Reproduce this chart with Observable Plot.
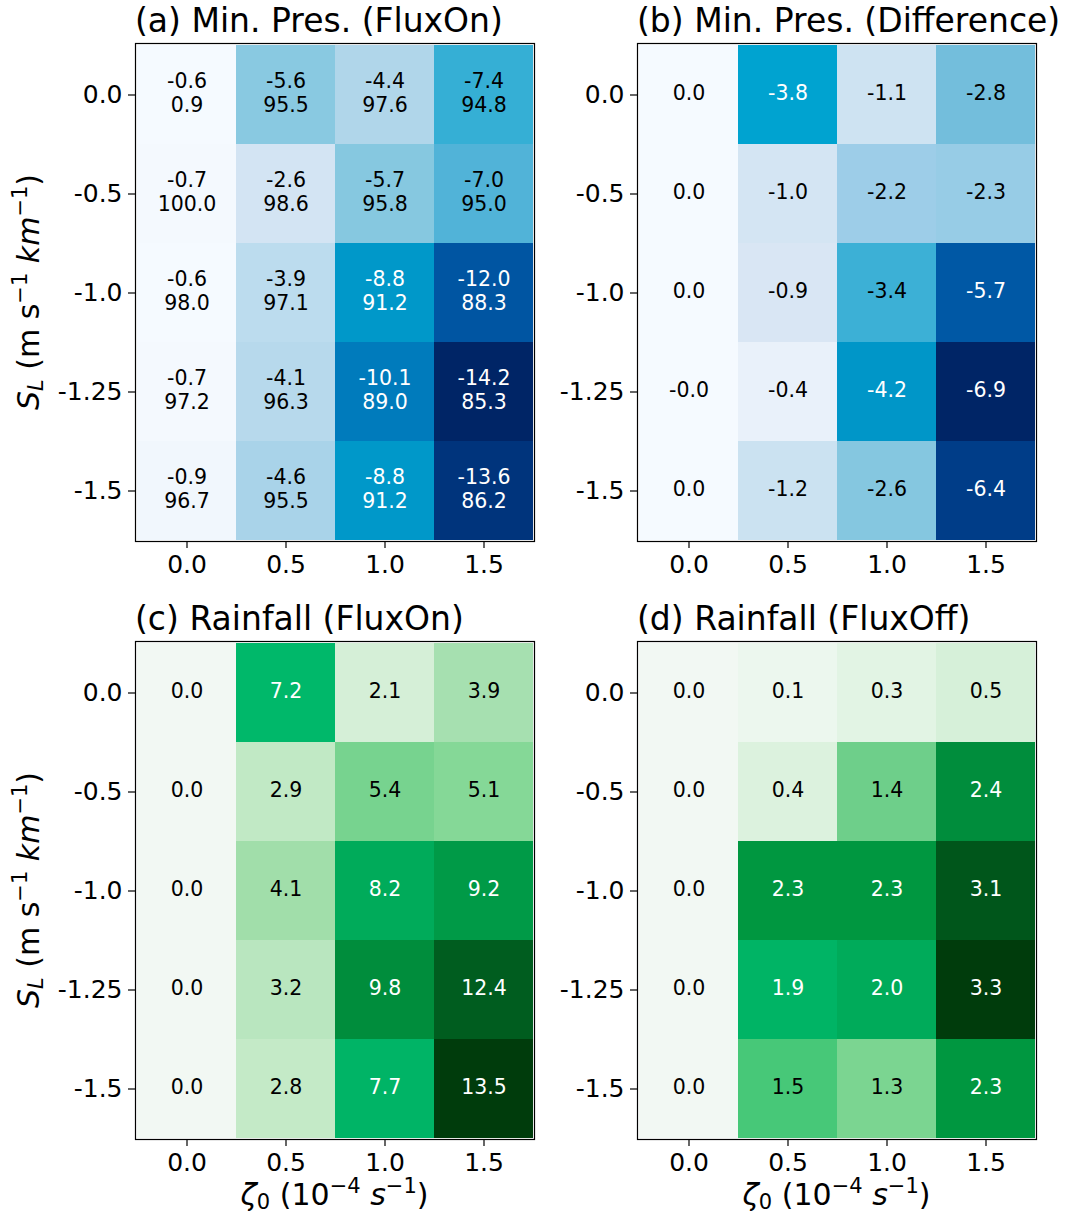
<!DOCTYPE html>
<html>
<head>
<meta charset="utf-8">
<script src="https://cdn.jsdelivr.net/npm/d3@7"></script>
<script src="https://cdn.jsdelivr.net/npm/@observablehq/plot@0.6"></script>
<style>
  html, body { margin: 0; padding: 0; background: white; }
  #chart { position: relative; width: 1066px; height: 1219px; background: white; font-family: "DejaVu Sans", sans-serif; }
  #chart > svg { position: absolute; }
</style>
</head>
<body>
<div id="chart"></div>
<script>
// ---------- data ----------
const zeta = ["0.0", "0.5", "1.0", "1.5"];                 // x categories (10^-4 s^-1)
const shear = ["0.0", "-0.5", "-1.0", "-1.25", "-1.5"];    // y categories (m s^-1 km^-1)

// rows = shear (top to bottom), columns = zeta
const presFluxOn = [
  [-0.6, -5.6, -4.4, -7.4],
  [-0.7, -2.6, -5.7, -7.0],
  [-0.6, -3.9, -8.8, -12.0],
  [-0.7, -4.1, -10.1, -14.2],
  [-0.9, -4.6, -8.8, -13.6]
];
const presPercent = [
  [0.9, 95.5, 97.6, 94.8],
  [100.0, 98.6, 95.8, 95.0],
  [98.0, 97.1, 91.2, 88.3],
  [97.2, 96.3, 89.0, 85.3],
  [96.7, 95.5, 91.2, 86.2]
];
const presDiff = [
  [0.0, -3.8, -1.1, -2.8],
  [0.0, -1.0, -2.2, -2.3],
  [0.0, -0.9, -3.4, -5.7],
  [-0.0, -0.4, -4.2, -6.9],
  [0.0, -1.2, -2.6, -6.4]
];
const rainFluxOn = [
  [0.0, 7.2, 2.1, 3.9],
  [0.0, 2.9, 5.4, 5.1],
  [0.0, 4.1, 8.2, 9.2],
  [0.0, 3.2, 9.8, 12.4],
  [0.0, 2.8, 7.7, 13.5]
];
const rainFluxOff = [
  [0.0, 0.1, 0.3, 0.5],
  [0.0, 0.4, 1.4, 2.4],
  [0.0, 2.3, 2.3, 3.1],
  [0.0, 1.9, 2.0, 3.3],
  [0.0, 1.5, 1.3, 2.3]
];

const titles = ["(a) Min. Pres. (FluxOn)", "(b) Min. Pres. (Difference)", "(c) Rainfall (FluxOn)", "(d) Rainfall (FluxOff)"];

// ---------- colormaps (styles) ----------
const blueStops = [0.00, 0.06, 0.13, 0.16, 0.24, 0.28, 0.32, 0.375, 0.41, 0.47, 0.50, 0.55, 0.61, 0.70, 0.835, 0.94, 1.00];
const blueColors = ["#f5faff", "#e9f1fa", "#d9e6f4", "#cee3f2", "#bddcee", "#b0d6ea", "#9ccde8", "#86c8e0", "#70bddc", "#52b3d8", "#35afd5", "#00a3d0", "#0096c8", "#007bbc", "#0056a3", "#003a84", "#002566"];
const greenStops = [0.00, 0.03, 0.09, 0.15, 0.21, 0.24, 0.29, 0.30, 0.38, 0.40, 0.425, 0.455, 0.53, 0.575, 0.607, 0.68, 0.70, 0.73, 0.93, 1.00];
const greenColors = ["#f2f8f3", "#ecf7ee", "#e2f4e4", "#d7f0d9", "#c3eac6", "#b8e6be", "#a6e0b0", "#a2deab", "#84d896", "#77d38f", "#6ecf8a", "#46c878", "#00b86a", "#00b465", "#00ab5a", "#009a48", "#00963f", "#008c3c", "#005a1d", "#003c0c"];

function makeInterp(stops, colors) {
  const s = d3.scaleLinear().domain(stops).range(colors).interpolate(d3.interpolateRgb).clamp(true);
  return (t) => s(t);
}
const blueInterp = makeInterp(blueStops, blueColors);
const greenInterp = makeInterp(greenStops, greenColors);

function fmt(v) {
  return Object.is(v, -0) ? "-0.0" : v.toFixed(1);
}

function buildRows(values, colorSign, second) {
  const rows = [];
  values.forEach((row, i) => row.forEach((v, j) => {
    rows.push({
      shear: shear[i],
      zeta: zeta[j],
      c: colorSign * v + 0,
      label: second ? fmt(v) + "\n" + fmt(second[i][j]) : fmt(v)
    });
  }));
  const [lo, hi] = d3.extent(rows, d => d.c);
  rows.forEach(d => { d.t = (d.c - lo) / (hi - lo); });
  return rows;
}

const panels = [
  {rows: buildRows(presFluxOn, -1, presPercent), interp: blueInterp, title: titles[0], left: 0, top: 0, width: 540, height: 600, ml: 135, mr: 6, mt: 43, mb: 59, ylab: true, xlab: false},
  {rows: buildRows(presDiff, -1, null), interp: blueInterp, title: titles[1], left: 540, top: 0, width: 526, height: 600, ml: 97, mr: 30, mt: 43, mb: 59, ylab: false, xlab: false},
  {rows: buildRows(rainFluxOn, 1, null), interp: greenInterp, title: titles[2], left: 0, top: 600, width: 540, height: 619, ml: 135, mr: 6, mt: 41, mb: 80, ylab: true, xlab: true},
  {rows: buildRows(rainFluxOff, 1, null), interp: greenInterp, title: titles[3], left: 540, top: 600, width: 526, height: 619, ml: 97, mr: 30, mt: 41, mb: 80, ylab: false, xlab: true}
];

const chart = document.getElementById("chart");

for (const p of panels) {
  const svg = Plot.plot({
    width: p.width,
    height: p.height,
    marginLeft: p.ml,
    marginRight: p.mr,
    marginTop: p.mt,
    marginBottom: p.mb,
    style: {fontFamily: "DejaVu Sans", fontSize: "25px", background: "transparent", color: "black", overflow: "visible"},
    x: {type: "band", domain: zeta, padding: 0, label: null},
    y: {type: "band", domain: shear, padding: 0, label: null},
    color: {type: "linear", interpolate: p.interp},
    marks: [
      Plot.cell(p.rows, {x: "zeta", y: "shear", fill: "c", inset: 0}),
      Plot.text(p.rows.filter(d => d.t <= 0.501), {x: "zeta", y: "shear", text: "label", fill: "black", fontSize: 20.5, lineHeight: 1.17, dy: -3}),
      Plot.text(p.rows.filter(d => d.t > 0.501), {x: "zeta", y: "shear", text: "label", fill: "white", fontSize: 20.5, lineHeight: 1.17, dy: -3}),
      Plot.frame({stroke: "black", strokeWidth: 1.2}),
      Plot.axisX({tickSize: 7, tickPadding: 7, label: null, strokeWidth: 1.2}),
      Plot.axisY({tickSize: 7, tickPadding: 6, label: null, strokeWidth: 1.2})
    ]
  });
  svg.style.left = p.left + "px";
  svg.style.top = p.top + "px";
  const s = d3.select(svg);

  // panel title
  s.append("text")
    .attr("x", p.ml)
    .attr("y", p.mt - 11)
    .attr("font-size", 33)
    .attr("fill", "black")
    .attr("text-anchor", "start")
    .text(p.title);

  if (p.ylab) {
    const cy = p.mt + (p.height - p.mt - p.mb) / 2;
    const t = s.append("text")
      .attr("transform", `translate(39,${cy}) rotate(-90)`)
      .attr("text-anchor", "middle")
      .attr("font-size", 30)
      .attr("fill", "black");
    t.append("tspan").attr("font-style", "italic").text("S");
    t.append("tspan").attr("font-style", "italic").attr("font-size", "70%").attr("baseline-shift", "-20%").text("L");
    t.append("tspan").text(" (m s");
    t.append("tspan").attr("font-size", "70%").attr("baseline-shift", "55%").text("−1");
    t.append("tspan").text(" ");
    t.append("tspan").attr("font-style", "italic").text("km");
    t.append("tspan").attr("font-size", "70%").attr("baseline-shift", "55%").text("−1");
    t.append("tspan").text(")");
  }
  if (p.xlab) {
    const cx = p.ml + (p.width - p.ml - p.mr) / 2;
    const t = s.append("text")
      .attr("x", cx)
      .attr("y", p.height - 14)
      .attr("text-anchor", "middle")
      .attr("font-size", 30)
      .attr("fill", "black");
    t.append("tspan").attr("font-style", "italic").text("ζ");
    t.append("tspan").attr("font-size", "70%").attr("baseline-shift", "-20%").text("0");
    t.append("tspan").text(" (10");
    t.append("tspan").attr("font-size", "70%").attr("baseline-shift", "55%").text("−4");
    t.append("tspan").text(" ");
    t.append("tspan").attr("font-style", "italic").text("s");
    t.append("tspan").attr("font-size", "70%").attr("baseline-shift", "55%").text("−1");
    t.append("tspan").text(")");
  }
  chart.appendChild(svg);
}
</script>
</body>
</html>
